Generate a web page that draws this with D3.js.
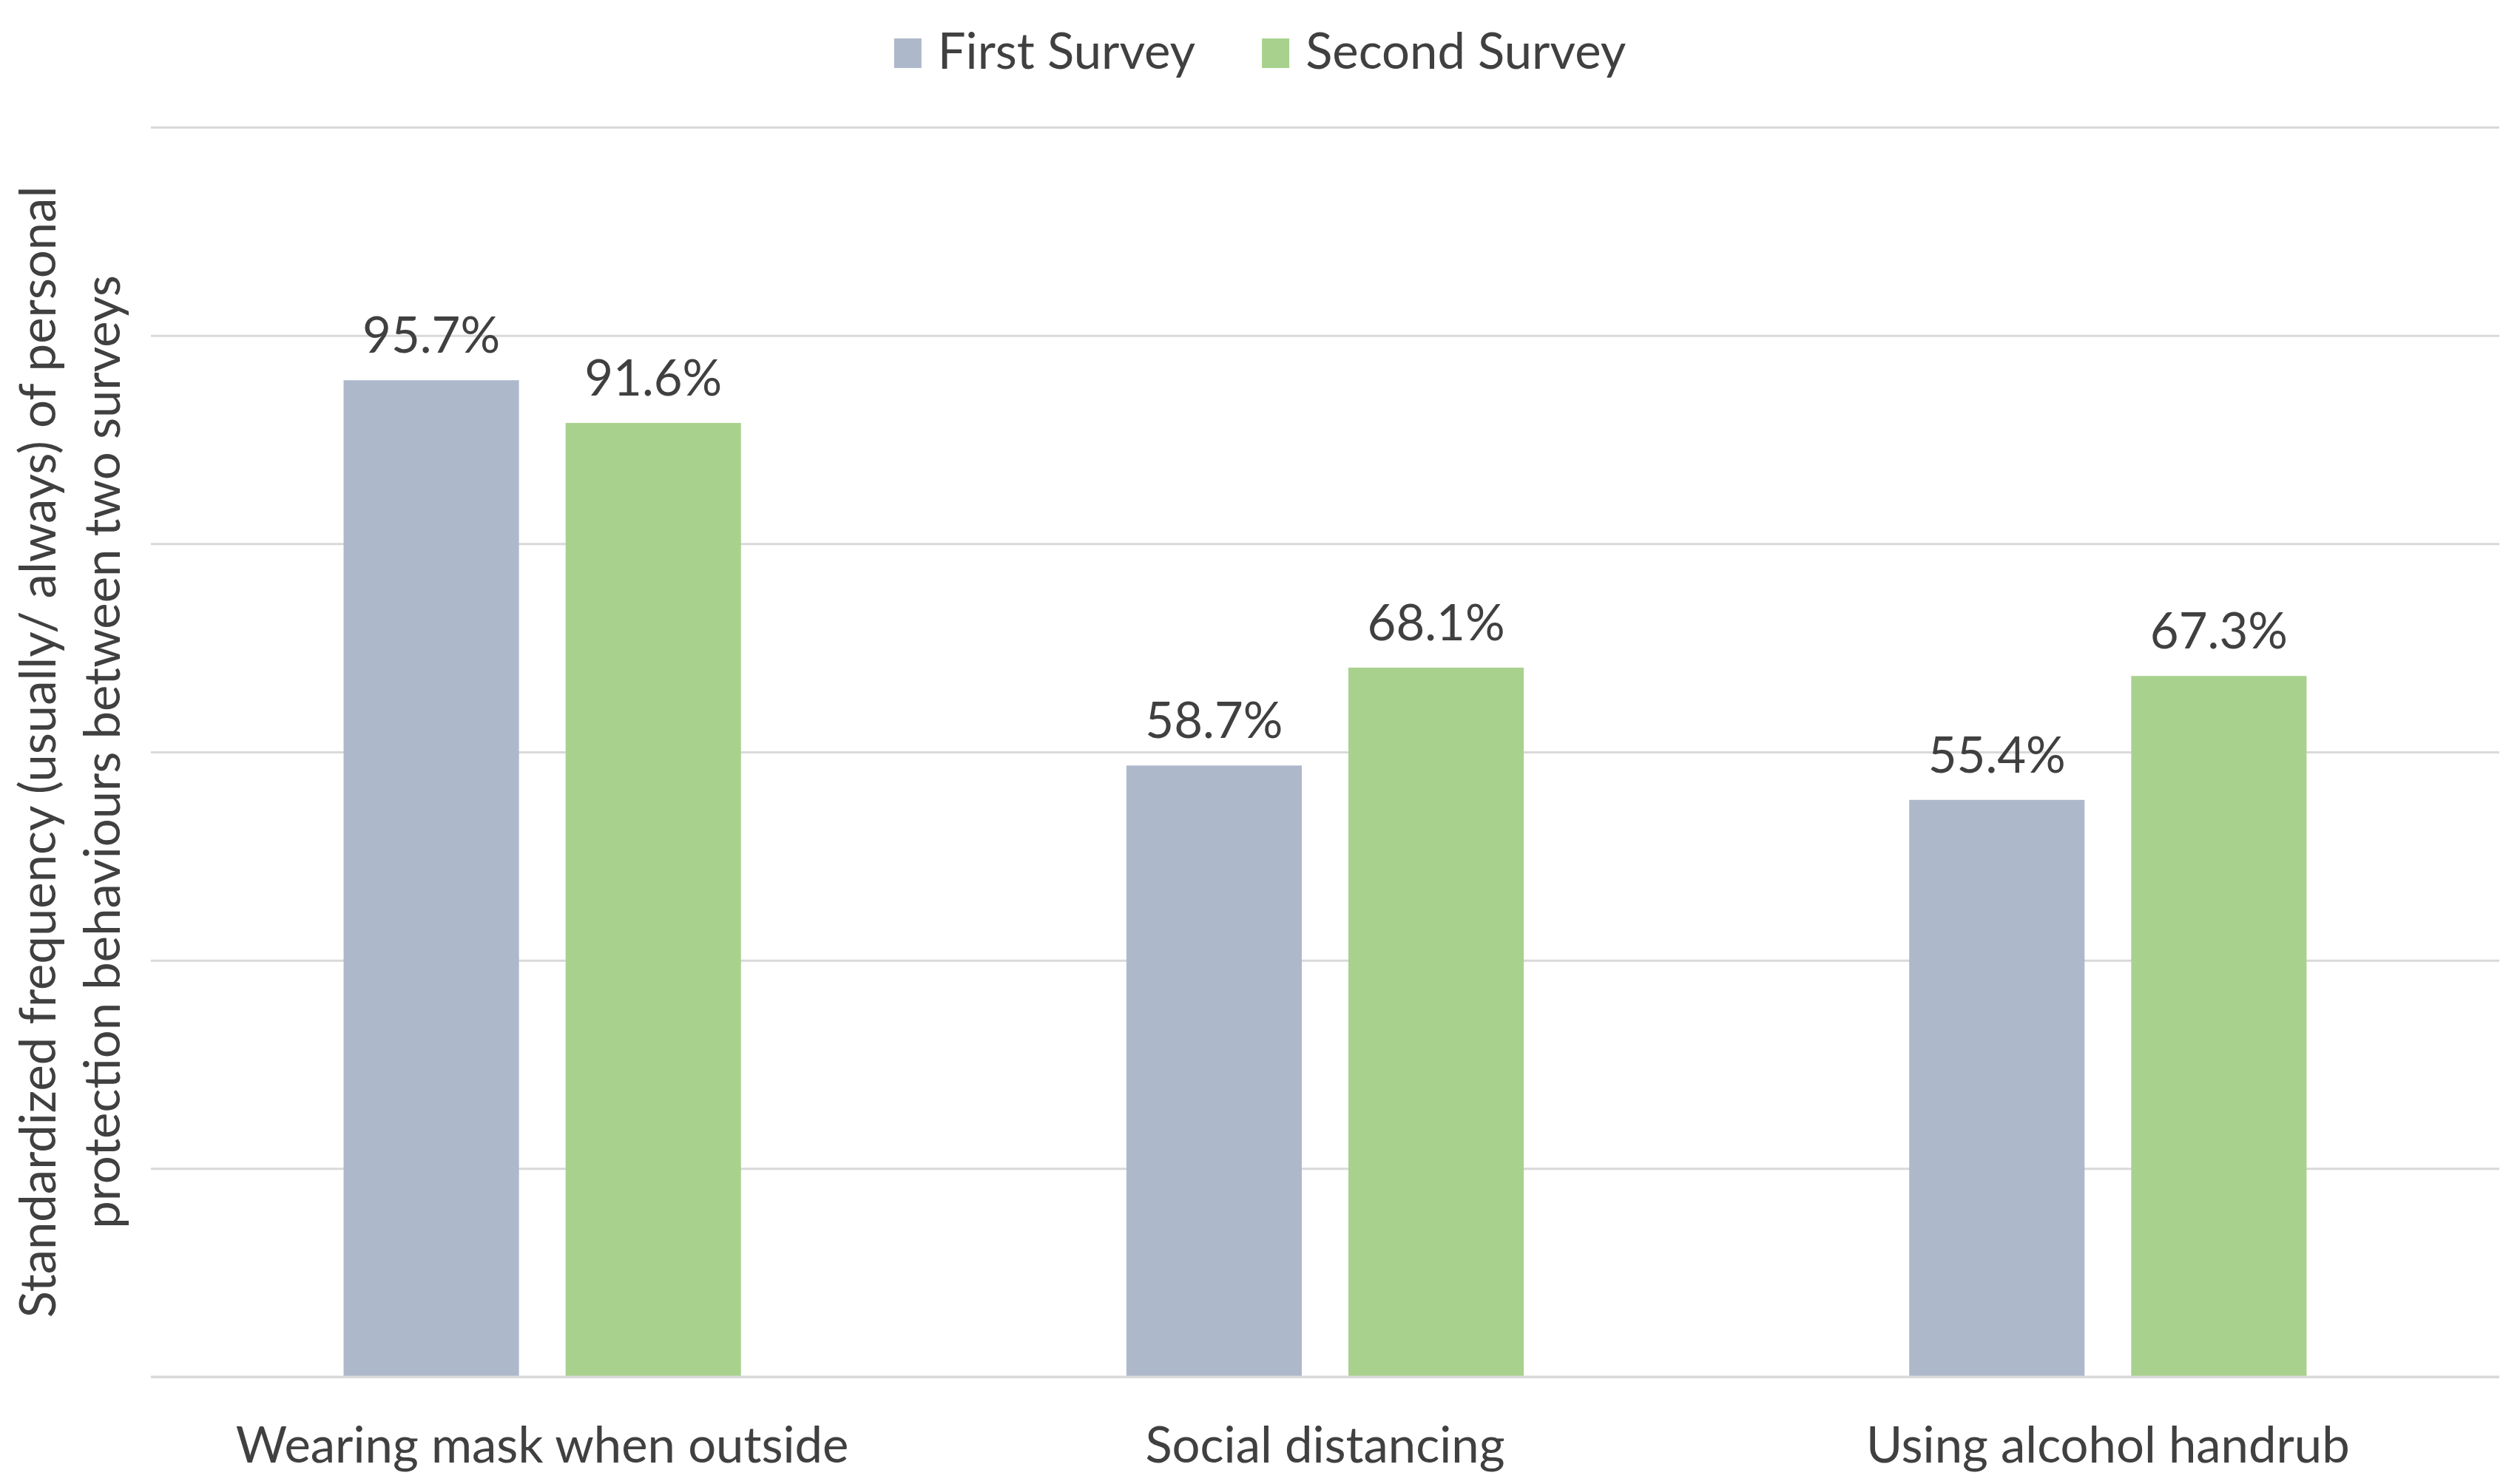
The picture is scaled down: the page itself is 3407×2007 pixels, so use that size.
<!DOCTYPE html>
<html>
<head>
<meta charset="utf-8">
<script src="https://cdn.jsdelivr.net/npm/d3@7"></script>
<style>
html,body{margin:0;padding:0;background:#fff;}
svg{display:block;}
text{font-family:Lato,"Open Sans",sans-serif;fill:#404040;}
</style>
</head>
<body>
<svg id="chart" width="3407" height="2007"></svg>
<script>
const categories = ["Wearing mask when outside", "Social distancing", "Using alcohol handrub"];
const seriesNames = ["First Survey", "Second Survey"];
const firstSurvey = [95.7, 58.7, 55.4];
const secondSurvey = [91.6, 68.1, 67.3];
const yTicks = [0, 20, 40, 60, 80, 100, 120];
const yTitleLines = ["Standardized frequency (usually/ always) of personal", "protection behaviours between two surveys"];
const colors = ["#ADB9CA", "#A9D18E"];

const W = 3407, H = 2007;
const margin = {left: 204, right: 28, top: 172, bottom: 145};
const svg = d3.select("#chart");
const fontSize = 67;

const x0 = d3.scaleBand().domain(categories).range([margin.left, W - margin.right]).paddingInner(0).paddingOuter(0);
const x1 = d3.scaleBand().domain(seriesNames).range([0, x0.bandwidth()]).paddingInner(0.21).paddingOuter(0.868);
const y = d3.scaleLinear().domain([0, 120]).range([H - margin.bottom, margin.top]);
const color = d3.scaleOrdinal().domain(seriesNames).range(colors);

// gridlines
const yAxis = d3.axisLeft(y).tickValues(yTicks).tickSize(-(W - margin.left - margin.right)).tickFormat("");
const gy = svg.append("g").attr("transform", `translate(${margin.left},0)`).call(yAxis);
gy.select(".domain").remove();
gy.selectAll(".tick line").attr("stroke", "#d9d9d9").attr("stroke-width", 3);

const rows = categories.map((c, i) => ({cat: c, values: [
  {s: seriesNames[0], v: firstSurvey[i]},
  {s: seriesNames[1], v: secondSurvey[i]}
]}));

const groups = svg.append("g").selectAll("g").data(rows).join("g")
  .attr("transform", d => `translate(${x0(d.cat)},0)`);

groups.selectAll("rect").data(d => d.values).join("rect")
  .attr("x", d => x1(d.s))
  .attr("width", x1.bandwidth())
  .attr("y", d => y(d.v))
  .attr("height", d => y(0) - y(d.v))
  .attr("fill", d => color(d.s));

groups.selectAll("text.val").data(d => d.values).join("text")
  .attr("class", "val")
  .attr("x", d => x1(d.s) + x1.bandwidth() / 2)
  .attr("y", d => y(d.v) - 37)
  .attr("text-anchor", "middle")
  .attr("font-size", fontSize)
  .text(d => d.v.toFixed(1) + "%");

// redraw baseline on top
svg.append("line")
  .attr("x1", margin.left).attr("x2", W - margin.right)
  .attr("y1", y(0)).attr("y2", y(0))
  .attr("stroke", "#d9d9d9").attr("stroke-width", 3);

// x axis labels
const xAxis = d3.axisBottom(x0).tickSize(0).tickPadding(0);
const gx = svg.append("g").attr("transform", `translate(0,${y(0)})`).call(xAxis);
gx.select(".domain").remove();
gx.selectAll(".tick text")
  .attr("font-size", fontSize)
  .attr("font-family", "Lato, 'Open Sans', sans-serif")
  .attr("fill", "#404040")
  .attr("dy", null)
  .attr("y", 116);

// y title
const yc = (y(0) + y(120)) / 2;
const yt = svg.append("text")
  .attr("transform", `translate(75,${yc}) rotate(-90)`)
  .attr("text-anchor", "middle")
  .attr("font-size", fontSize);
yt.selectAll("tspan").data(yTitleLines).join("tspan")
  .attr("x", 0)
  .attr("dy", (d, i) => i === 0 ? 0 : 87)
  .text(d => d);

// legend
const legend = svg.append("g");
const items = legend.selectAll("g").data(seriesNames).join("g");
items.append("rect").attr("width", 37).attr("height", 40).attr("y", 52).attr("fill", d => color(d));
items.append("text").attr("x", 59).attr("y", 93).attr("font-size", fontSize).text(d => d);
let widths = [];
items.each(function() { widths.push(this.getBBox().width); });
const gap = 90;
const total = d3.sum(widths) + gap * (widths.length - 1);
let cx = W / 2 - total / 2;
items.attr("transform", (d, i) => {
  const t = `translate(${cx},0)`;
  cx += widths[i] + gap;
  return t;
});
</script>
</body>
</html>
